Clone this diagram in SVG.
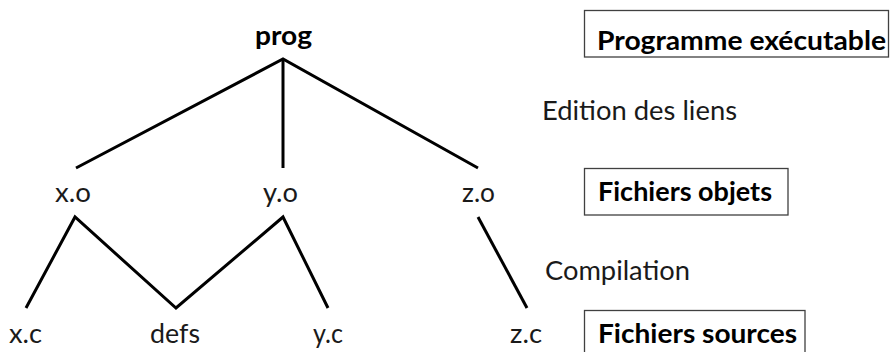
<svg xmlns="http://www.w3.org/2000/svg" width="890" height="352" viewBox="0 0 890 352">
<style>
text{font-family:Lato,"Open Sans","Liberation Sans",sans-serif;font-size:27.5px;fill:#1a1a1a}
.b{font-weight:bold;fill:#000}
.box{fill:#fff;stroke:#404040;stroke-width:1.3}
.edge{stroke:#000;stroke-width:3;fill:none;stroke-linecap:butt;stroke-linejoin:miter}
</style>
<rect width="890" height="352" fill="#fff"/>
<g id="connectors">
<polyline class="edge" points="76,168 283,59 478,168"/>
<line class="edge" x1="283" y1="59" x2="283" y2="168"/>
<polyline class="edge" points="26,308 75,217 176,308 283,217 328,308"/>
<line class="edge" x1="478" y1="217" x2="527" y2="308"/>
</g>
<g id="prog"><text class="b" x="255" y="45" textLength="57" lengthAdjust="spacingAndGlyphs">prog</text></g>
<g id="xo"><text x="55" y="202" textLength="36" lengthAdjust="spacingAndGlyphs">x.o</text></g>
<g id="yo"><text x="263" y="202" textLength="35" lengthAdjust="spacingAndGlyphs">y.o</text></g>
<g id="zo"><text x="462" y="202" textLength="33" lengthAdjust="spacingAndGlyphs">z.o</text></g>
<g id="xc"><text x="9" y="343" textLength="33" lengthAdjust="spacingAndGlyphs">x.c</text></g>
<g id="defs"><text x="150" y="343" textLength="50" lengthAdjust="spacingAndGlyphs">defs</text></g>
<g id="yc"><text x="313" y="343" textLength="30" lengthAdjust="spacingAndGlyphs">y.c</text></g>
<g id="zc"><text x="510" y="343" textLength="32" lengthAdjust="spacingAndGlyphs">z.c</text></g>
<g id="label-edition"><text x="542" y="120" textLength="195" lengthAdjust="spacingAndGlyphs">Edition des liens</text></g>
<g id="label-compilation"><text x="545" y="280" textLength="145" lengthAdjust="spacingAndGlyphs">Compilation</text></g>
<g id="box-programme">
<rect class="box" x="584.5" y="10.5" width="304" height="46.5"/>
<text class="b" x="597" y="50" textLength="289" lengthAdjust="spacingAndGlyphs">Programme exécutable</text>
</g>
<g id="box-objets">
<rect class="box" x="584.5" y="168.5" width="203.5" height="46.5"/>
<text class="b" x="598" y="201" textLength="174" lengthAdjust="spacingAndGlyphs">Fichiers objets</text>
</g>
<g id="box-sources">
<rect class="box" x="584.5" y="310.5" width="220.5" height="50"/>
<text class="b" x="598" y="343" textLength="199" lengthAdjust="spacingAndGlyphs">Fichiers sources</text>
</g>
</svg>
